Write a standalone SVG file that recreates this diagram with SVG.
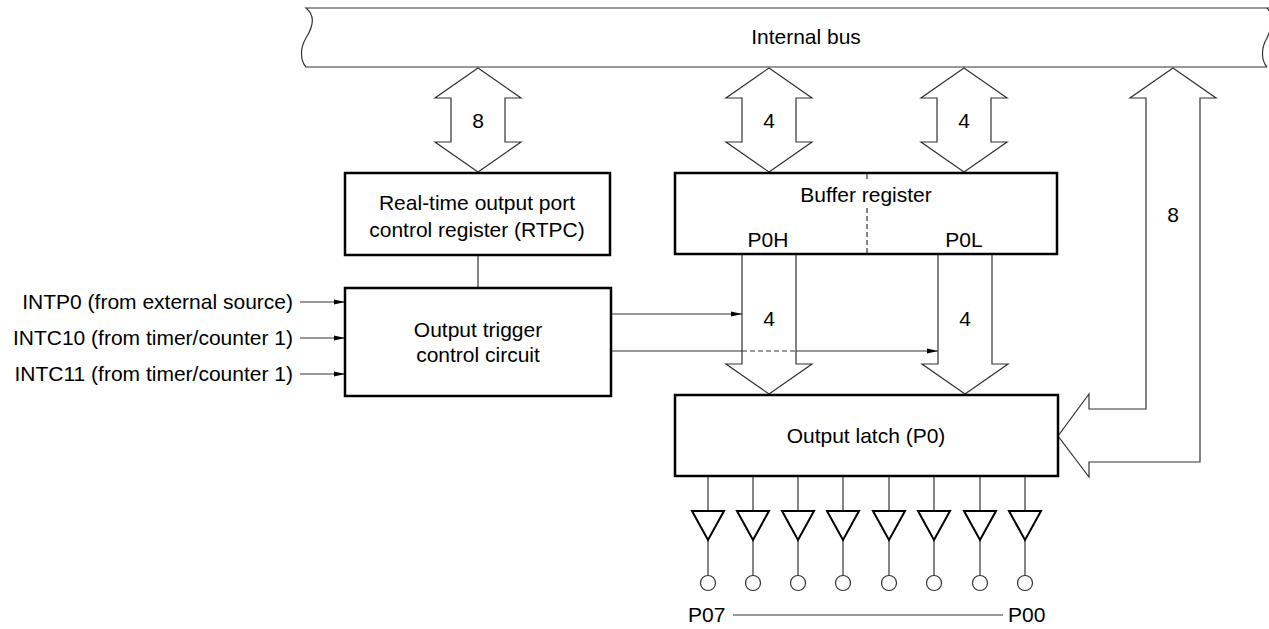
<svg xmlns="http://www.w3.org/2000/svg" width="1269" height="629" viewBox="0 0 1269 629">
<style>
text{font-family:"Liberation Sans",Arial,sans-serif;font-size:21px;fill:#000}
.c{text-anchor:middle}
.r{text-anchor:end}
.box{fill:#fff;stroke:#000;stroke-width:2.5}
.ln{fill:none;stroke:#333;stroke-width:1.2}
.bus{fill:#fff;stroke:#333;stroke-width:1.2}
.buf{fill:#fff;stroke:#000;stroke-width:2}
.pin{fill:#fff;stroke:#333;stroke-width:1.2}
.dash{stroke:#333;stroke-width:1.2;stroke-dasharray:5 3;fill:none}
</style>
<defs>
<marker id="ah" markerWidth="12" markerHeight="8" refX="11" refY="4" orient="auto" markerUnits="userSpaceOnUse">
<path d="M0,1.5 L11,4 L0,6.5 Z" fill="#000"/>
</marker>
</defs>
<g id="internal-bus">
<path class="ln" d="M1269,8 L306,8 C316,16 313,27 306,38 C300,48 300,60 306,67 L1267,67"/>
<path class="ln" d="M1267,8 C1275,16 1272,27 1267,38 C1261,48 1261,60 1267,67"/>
<text class="c" x="806" y="44">Internal bus</text>
</g>
<g id="connectors">
<path class="bus" d="M478,68 L521,98 L505,98 L505,142 L521,142 L478,172 L435,142 L451,142 L451,98 L435,98 Z"/>
<text class="c" x="478" y="128">8</text>
<path class="bus" d="M769,68 L812,98 L796,98 L796,142 L812,142 L769,172 L726,142 L742,142 L742,98 L726,98 Z"/>
<text class="c" x="769" y="128">4</text>
<path class="bus" d="M964,68 L1007,98 L991,98 L991,142 L1007,142 L964,172 L921,142 L937,142 L937,98 L921,98 Z"/>
<text class="c" x="964" y="128">4</text>
<path class="bus" d="M1173,68 L1216,98 L1200,98 L1200,462 L1089,462 L1089,477 L1058,436 L1089,394 L1089,409 L1146,409 L1146,98 L1130,98 Z"/>
<text class="c" x="1173" y="222">8</text>
<path class="bus" d="M742,254 L742,364 L726,364 L769,394 L812,364 L796,364 L796,254"/>
<text class="c" x="769" y="326">4</text>
<path class="bus" d="M938,254 L938,364 L922,364 L965,394 L1008,364 L992,364 L992,254"/>
<text class="c" x="965" y="326">4</text>
<line class="ln" x1="478" y1="255" x2="478" y2="288"/>
<line class="ln" x1="300" y1="302" x2="345" y2="302" marker-end="url(#ah)"/>
<line class="ln" x1="300" y1="338" x2="345" y2="338" marker-end="url(#ah)"/>
<line class="ln" x1="300" y1="374" x2="345" y2="374" marker-end="url(#ah)"/>
<line class="ln" x1="611" y1="314" x2="742" y2="314" marker-end="url(#ah)"/>
<line class="ln" x1="611" y1="351" x2="742" y2="351"/>
<line class="dash" x1="742" y1="351" x2="796" y2="351"/>
<line class="ln" x1="796" y1="351" x2="938" y2="351" marker-end="url(#ah)"/>
<line class="ln" x1="733" y1="615" x2="1003" y2="615"/>
</g>
<g id="rtpc">
<rect class="box" x="345" y="173" width="265" height="82"/>
<text class="c" x="477" y="210">Real-time output port</text>
<text class="c" x="477" y="237">control register (RTPC)</text>
</g>
<g id="buffer-register">
<rect class="box" x="675" y="173" width="382" height="81"/>
<line class="dash" x1="867" y1="174" x2="867" y2="181"/>
<line class="dash" x1="867" y1="208" x2="867" y2="253"/>
<text class="c" x="866" y="202">Buffer register</text>
<text class="c" x="768" y="247">P0H</text>
<text class="c" x="964" y="247">P0L</text>
</g>
<g id="trigger">
<rect class="box" x="345" y="288" width="266" height="108"/>
<text class="c" x="478" y="337">Output trigger</text>
<text class="c" x="478" y="362">control circuit</text>
</g>
<g id="inputs">
<text class="r" x="293" y="309">INTP0 (from external source)</text>
<text class="r" x="293" y="345">INTC10 (from timer/counter 1)</text>
<text class="r" x="293" y="381">INTC11 (from timer/counter 1)</text>
</g>
<g id="output-latch">
<rect class="box" x="675" y="395" width="383" height="81"/>
<text class="c" x="866" y="443">Output latch (P0)</text>
</g>
<g id="output-buffers">
<g id="b7"><line class="ln" x1="708" y1="477" x2="708" y2="576"/><path class="buf" d="M692,511 L724,511 L708,540 Z"/><circle class="pin" cx="708" cy="583" r="7.5"/></g>
<g id="b6"><line class="ln" x1="753" y1="477" x2="753" y2="576"/><path class="buf" d="M737,511 L769,511 L753,540 Z"/><circle class="pin" cx="753" cy="583" r="7.5"/></g>
<g id="b5"><line class="ln" x1="798" y1="477" x2="798" y2="576"/><path class="buf" d="M782,511 L814,511 L798,540 Z"/><circle class="pin" cx="798" cy="583" r="7.5"/></g>
<g id="b4"><line class="ln" x1="843" y1="477" x2="843" y2="576"/><path class="buf" d="M827,511 L859,511 L843,540 Z"/><circle class="pin" cx="843" cy="583" r="7.5"/></g>
<g id="b3"><line class="ln" x1="889" y1="477" x2="889" y2="576"/><path class="buf" d="M873,511 L905,511 L889,540 Z"/><circle class="pin" cx="889" cy="583" r="7.5"/></g>
<g id="b2"><line class="ln" x1="934" y1="477" x2="934" y2="576"/><path class="buf" d="M918,511 L950,511 L934,540 Z"/><circle class="pin" cx="934" cy="583" r="7.5"/></g>
<g id="b1"><line class="ln" x1="980" y1="477" x2="980" y2="576"/><path class="buf" d="M964,511 L996,511 L980,540 Z"/><circle class="pin" cx="980" cy="583" r="7.5"/></g>
<g id="b0"><line class="ln" x1="1025" y1="477" x2="1025" y2="576"/><path class="buf" d="M1009,511 L1041,511 L1025,540 Z"/><circle class="pin" cx="1025" cy="583" r="7.5"/></g>
<text x="688" y="622">P07</text>
<text x="1008" y="622">P00</text>
</g>
</svg>
